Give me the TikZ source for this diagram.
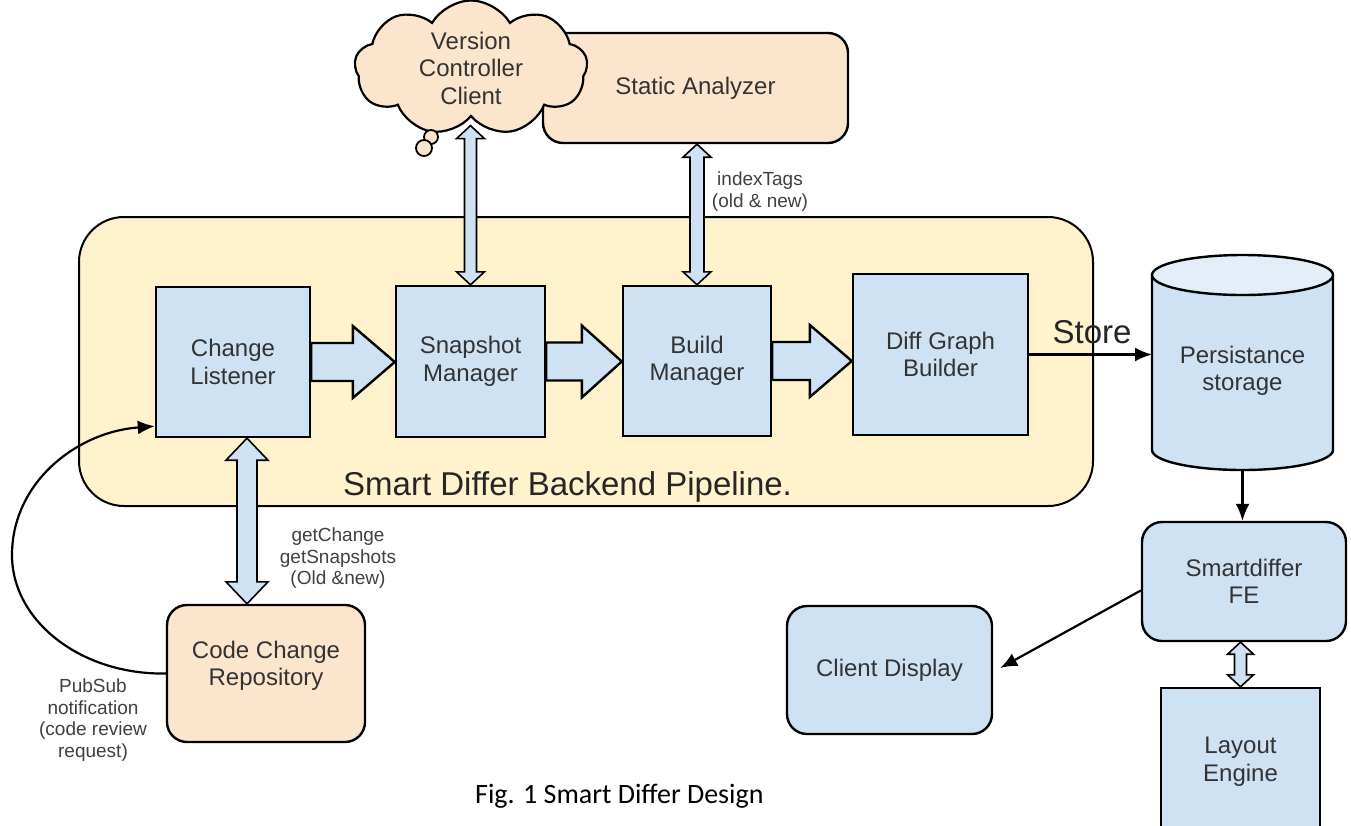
\documentclass[tikz,border=0pt]{standalone}
\usepackage{fontspec}
\setmainfont{Liberation Sans}
\newfontfamily\capfont{Carlito}
\usetikzlibrary{calc,shapes.symbols,arrows.meta}
\definecolor{boxblue}{HTML}{CFE2F3}
\definecolor{peach}{HTML}{FCE5CD}
\definecolor{pipeyellow}{HTML}{FFF2CC}
\definecolor{topblue}{HTML}{E3EEF8}
\definecolor{txt}{HTML}{333333}
\pgfdeclarelayer{bg}
\pgfsetlayers{bg,main}
\newcommand\labfont{\fontsize{24}{27.5}\selectfont}
\newcommand\smallfont{\fontsize{19}{21.5}\selectfont}
\newcommand\bigfont{\fontsize{33}{38}\selectfont}
% vertical double-headed outlined arrow: top point, bottom point, shaft half, head half, head length
\newcommand\vdblarrow[5]{\draw[dbl] let \p1=(#1), \p2=(#2) in
  (\x1,\y1) -- ({\x1+#4pt},{\y1-#5pt}) -- ({\x1+#3pt},{\y1-#5pt}) -- ({\x1+#3pt},{\y2+#5pt})
  -- ({\x1+#4pt},{\y2+#5pt}) -- (\x1,\y2) -- ({\x1-#4pt},{\y2+#5pt}) -- ({\x1-#3pt},{\y2+#5pt})
  -- ({\x1-#3pt},{\y1-#5pt}) -- ({\x1-#4pt},{\y1-#5pt}) -- cycle;}
% horizontal block arrow between two nodes: from, to, head length
\newcommand\blkarrow[3]{\draw[blk] let \p1=(#1.east), \p2=(#2.west) in
  (\x1,{\y1+19pt}) -- ({\x2-#3pt},{\y1+19pt}) -- ({\x2-#3pt},{\y1+36pt}) -- (\x2,\y1)
  -- ({\x2-#3pt},{\y1-36pt}) -- ({\x2-#3pt},{\y1-19pt}) -- (\x1,{\y1-19pt}) -- cycle;}

\begin{document}
\begin{tikzpicture}[x=1pt,y=-1pt,
  box/.style={draw, line width=2.4pt, fill=boxblue, text=txt, align=center, font=\labfont, inner sep=0pt},
  rbox/.style={box, rounded corners=20pt},
  conn/.style={line width=2.2pt, -{Latex[length=17pt,width=14pt]}},
  blk/.style={draw, line width=2.4pt, fill=boxblue, line join=miter},
  dbl/.style={draw, line width=1.6pt, fill=boxblue, line join=miter},
  smalltxt/.style={text=black!75, align=center, font=\smallfont, inner sep=0pt}]
\useasboundingbox (0,0) rectangle (1351,825);
\begin{pgfonlayer}{bg}
\fill[white] (0,0) rectangle (1351,825);
\end{pgfonlayer}
\clip (0,0) rectangle (1351,825);

% pipeline container
\node[draw, line width=2pt, fill=pipeyellow, rounded corners=45pt, minimum width=1014pt, minimum height=289pt, inner sep=0pt] (pipe) at (586,361.5) {};
\node[font=\bigfont, text=black!85, anchor=base west, inner sep=0pt] (pipelbl) at (343,495) {Smart Differ Backend Pipeline.};

% top row
\node[rbox, fill=peach, minimum width=305pt, minimum height=110pt] (sa) at (695.5,88) {Static Analyzer};
\node[cloud, draw, line width=2.2pt, fill=peach, text=txt, align=center, font=\labfont, cloud puffs=9, cloud puff arc=120, aspect=1.9, minimum width=233pt, minimum height=120pt, inner sep=0pt] (vcc) at (471,68) {Version\\Controller\\Client};
\draw[line width=1.8pt, fill=peach] (431,137) circle[radius=7];
\draw[line width=1.8pt, fill=peach] (424,148) circle[radius=8];

% pipeline stages
\node[box, minimum width=154pt, minimum height=150pt] (cl) at (233,362) {Change\\Listener};
\node[box, minimum width=149pt, minimum height=151pt] (sm) at (470.5,361.5) {Snapshot\\Manager};
\node[box, minimum width=148pt, minimum height=150pt] (bm) at (697,361) {Build\\Manager};
\node[box, minimum width=175pt, minimum height=161pt] (dgb) at (940.5,354.5) {Diff Graph\\Builder};

\blkarrow{cl}{sm}{42}
\blkarrow{sm}{bm}{40}
\blkarrow{bm}{dgb}{42}

% code change repository
\node[rbox, fill=peach, minimum width=198pt, minimum height=137pt] (ccr) at (266,673.5) {Code Change\\Repository\\[-7pt]\mbox{}};

% double arrows
\vdblarrow{$(sm.north |- vcc.south)+(0,8)$}{sm.north}{6}{14}{13}
\vdblarrow{bm.north |- sa.south}{bm.north}{7}{14}{13}
\vdblarrow{$(cl.south)+(14,0)$}{$(cl.south |- ccr.north)+(14,0)$}{10}{21}{22}

\node[smalltxt] (idx) at (760,191.5) {indexTags\\(old \& new)};
\node[smalltxt] (gc) at (338,558.5) {getChange\\getSnapshots\\(Old \&new)};
\node[smalltxt] (pub) at (93,720) {PubSub\\notification\\(code review\\request)};

% pubsub curve
\draw[conn] (ccr.west) .. controls (81,675) and (12,621) .. (12,555)
  .. controls (12,483) and (76,432) .. ($(cl.south west)+(0,-12)$);

% right column: persistence storage cylinder
\node[text=txt, align=center, font=\labfont, minimum width=181pt, minimum height=215pt, inner sep=0pt] (ps) at (1242.5,371) {Persistance\\storage};
\begin{pgfonlayer}{bg}
\filldraw[fill=boxblue, line width=2.4pt] (1152,275) -- (1152,450) arc[start angle=180, end angle=0, x radius=90.5, y radius=20] -- (1333,275);
\filldraw[fill=topblue, line width=2.4pt] (1242.5,275) ellipse [x radius=90.5, y radius=20];
\end{pgfonlayer}
\coordinate (psbot) at (1242.5,470);
\coordinate (psw) at (1152,362.5);

\node[font=\bigfont, text=black!85, inner sep=0pt] (storelbl) at (1092,332) {Store};
\draw[conn] (dgb.east) -- (psw |- dgb.east);

\node[rbox, minimum width=204pt, minimum height=119pt] (fe) at (1244,581.5) {Smartdiffer\\FE};
\draw[conn] (psbot) -- (psbot |- fe.north);
\node[rbox, minimum width=205pt, minimum height=128pt] (cd) at (889.5,670) {Client Display};
\draw[conn] ($(fe.west)+(0,9)$) -- ($(cd.east)+(7,-2)$);
\node[box, minimum width=159pt, minimum height=147pt] (le) at (1240.5,761.5) {Layout\\Engine};
\vdblarrow{le.north |- fe.south}{le.north}{6}{13}{12}

% caption
\node[font=\capfont\fontsize{28}{32}\selectfont, anchor=base west, inner sep=0pt] (cap) at (475,803) {Fig. 1 Smart Differ Design};
\end{tikzpicture}
\end{document}
